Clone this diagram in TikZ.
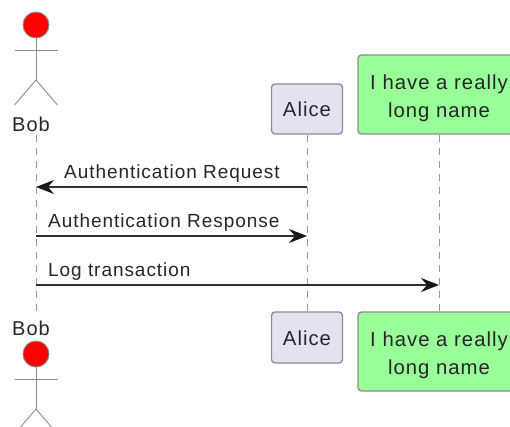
\documentclass[tikz,border=0pt]{standalone}
\usepackage{fontspec}
\setmainfont[LetterSpace=5]{Liberation Sans}
\usetikzlibrary{arrows.meta}
\definecolor{boxgray}{HTML}{E2E2F0}
\definecolor{boxgreen}{HTML}{99FF99}
\definecolor{edgegray}{HTML}{8C8C8C}
\definecolor{msgdark}{HTML}{303030}
\tikzset{
	party/.style={draw=edgegray,line width=1.3pt,rounded corners=3.5pt,inner sep=0pt,text=black!85,align=center,font=\fontsize{20.3}{28.5}\selectfont},
	lifeline/.style={draw=edgegray!90,line width=1pt,dash pattern=on 7pt off 6pt},
	limb/.style={draw=edgegray,line width=.9pt},
	head/.style={circle,draw=edgegray,fill=red,line width=.9pt,minimum size=26pt,inner sep=0pt},
	actorname/.style={inner sep=0pt,text=black!85,font=\fontsize{20}{22}\selectfont},
	msg/.style={draw=msgdark,line width=1.1pt,->},
	msgtext/.style={inner sep=0pt,anchor=base west,text=black!85,font=\fontsize{19}{20}\selectfont}
}
\begin{document}
\begin{tikzpicture}[>={Stealth[length=18pt,width=14pt,inset=6pt,color=black!90]},x=1pt,y=-1pt]
	\useasboundingbox (0,0) rectangle (510,427);
	\clip (0,0) rectangle (510,427);
	% parties, top and bottom
	\node[party,fill=boxgray,minimum width=71pt,minimum height=50pt] (alicetop) at (307,109) {\rule{0pt}{16pt}Alice};
	\node[party,fill=boxgray,minimum width=71pt,minimum height=51pt] (alicebot) at (307,337.5) {\rule{0pt}{16pt}Alice};
	\node[party,fill=boxgreen,minimum width=162pt,minimum height=79pt] (longtop) at (439,94.5) {\rule{0pt}{22pt}I have a really\\long name};
	\node[party,fill=boxgreen,minimum width=162pt,minimum height=79pt] (longbot) at (439,351.5) {\rule{0pt}{22pt}I have a really\\long name};
	\node[actorname] (bobtop) at (31,124) {Bob};
	\node[actorname] (bobbot) at (31,328) {Bob};
	% actors
	\foreach \name/\y in {a/25,b/354}{
		\node[head] (head\name) at (36,\y) {};
		\coordinate (hip\name) at (36,\y+55);
		\draw[limb] (head\name.south) -- (hip\name) (14.5,\y+25) -- (57.5,\y+25);
		\draw[limb] (14.5,\y+80) -- (hip\name) -- (57.5,\y+80);
	}
	% lifelines
	\coordinate (bobstart) at (36,135);
	\coordinate (bobend) at (36,314);
	\draw[lifeline] (bobstart) -- (bobend);
	\draw[lifeline] (alicetop) -- (alicebot);
	\draw[lifeline] (longtop) -- (longbot);
	% messages
	\coordinate (bob1) at (36,187);
	\coordinate (alice1) at (307,187);
	\coordinate (bob2) at (36,236);
	\coordinate (alice2) at (307,236);
	\coordinate (bob3) at (36,285);
	\coordinate (long3) at (439,285);
	\draw[msg] (alice1) -- (bob1);
	\draw[msg] (bob2) -- (alice2);
	\draw[msg] (bob3) -- (long3);
	\node[msgtext] (req) at (64,178.5) {Authentication Request};
	\node[msgtext] (resp) at (48,227.5) {Authentication Response};
	\node[msgtext] (log) at (48,276.5) {Log transaction};
\end{tikzpicture}
\end{document}
